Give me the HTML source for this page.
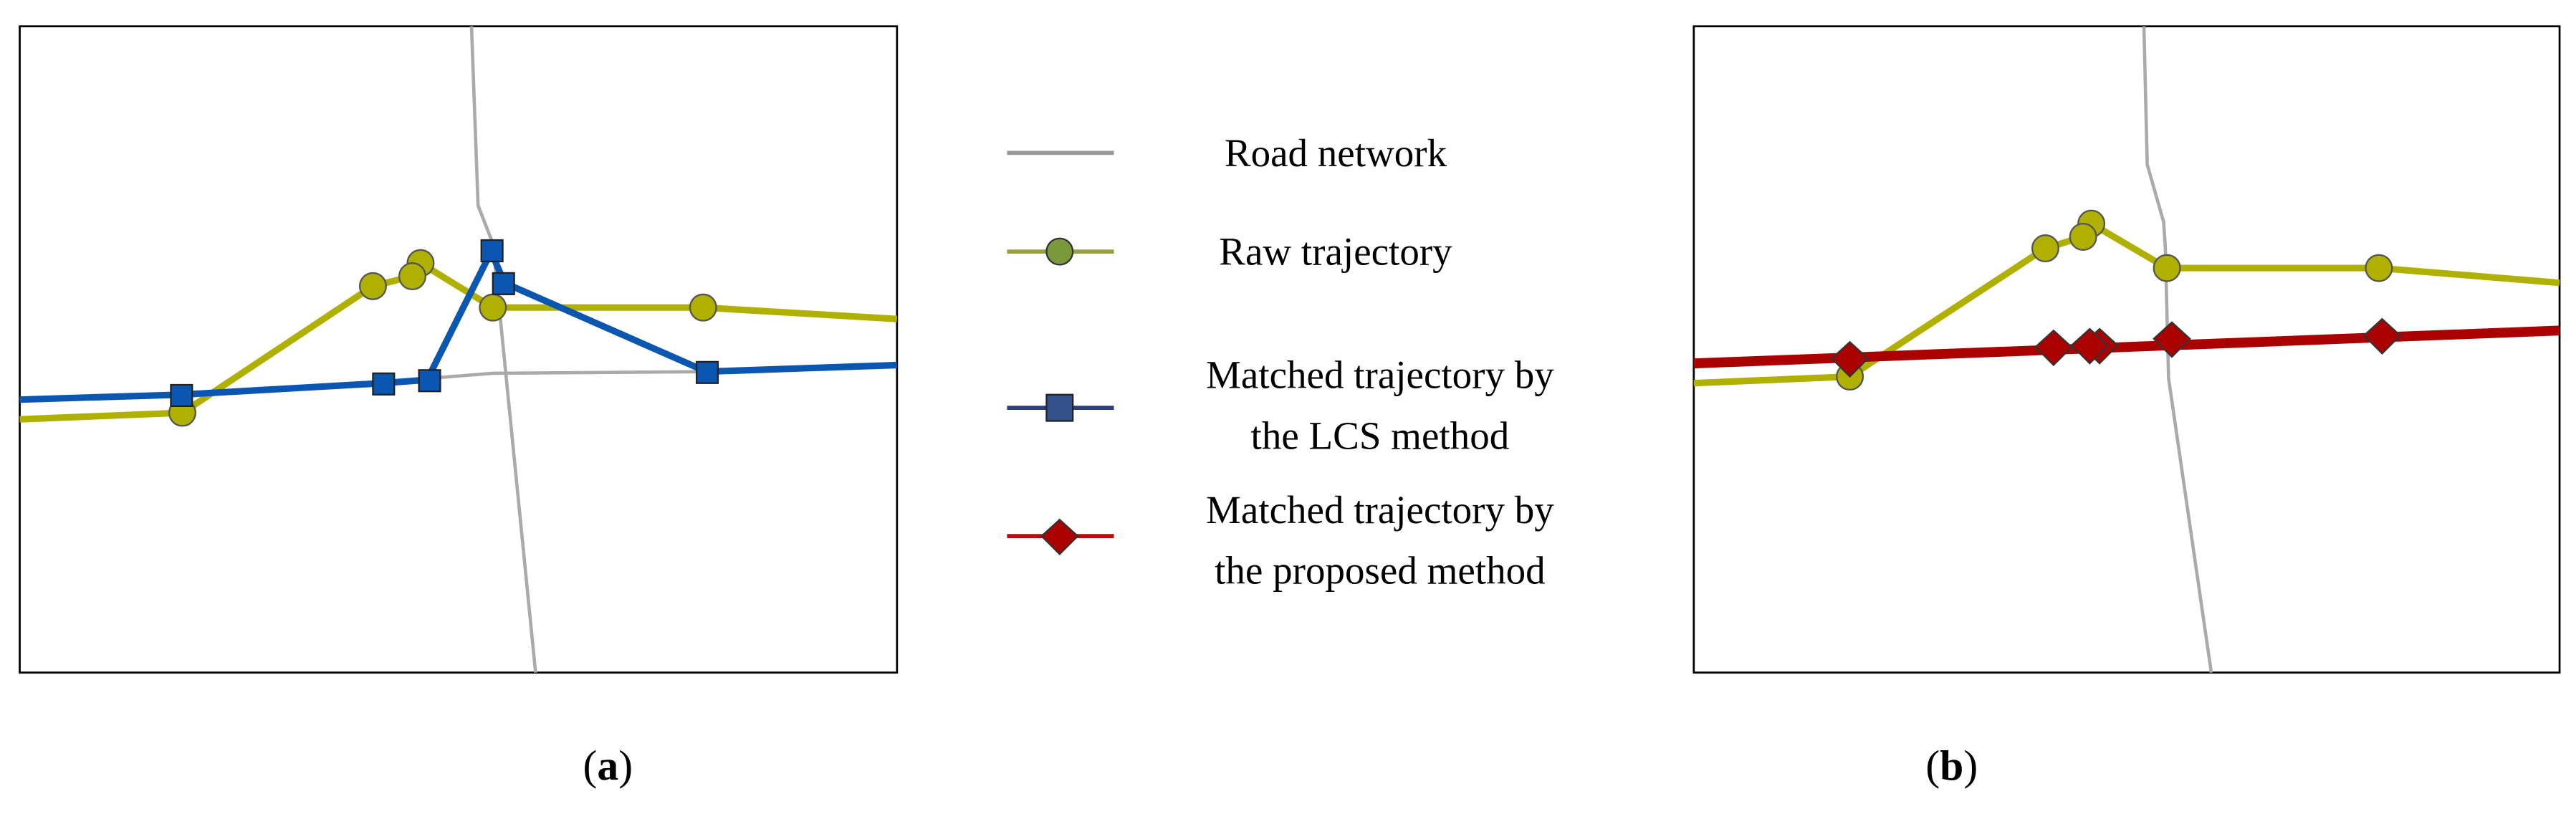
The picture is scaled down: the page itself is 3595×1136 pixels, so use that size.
<!DOCTYPE html>
<html><head><meta charset="utf-8"><style>
html,body{margin:0;padding:0;background:#fff;}
svg{display:block;}
text{font-family:"Liberation Serif",serif;fill:#000;}
</style></head><body>
<svg width="3595" height="1136" viewBox="0 0 1568 495" preserveAspectRatio="none" xmlns="http://www.w3.org/2000/svg">
<rect x="0" y="0" width="1568" height="495" fill="#fff"/>
<!-- Panel a -->
<rect x="12" y="16" width="534" height="393" fill="#fff" stroke="#000" stroke-width="1.2"/>
<polyline points="287,16 291,125 300,148 326,409" fill="none" stroke="#aaa" stroke-width="2"/>
<polyline points="262,230 300,227 430,226" fill="none" stroke="#aaa" stroke-width="2"/>
<polyline points="12,255 111,251 227,174 251,168 256,160 300,187 428,187 546,194" fill="none" stroke="#b0b000" stroke-width="4"/>
<polyline points="12,243 110,240 233,233 260,231 299,153 307,172 430,226 546,222" fill="none" stroke="#0a56b0" stroke-width="4"/>
<g fill="#b0b000" stroke="#555" stroke-width="1">
<circle cx="111" cy="251" r="8"/><circle cx="227" cy="174" r="8"/><circle cx="256" cy="160" r="8"/><circle cx="251" cy="168" r="8"/><circle cx="300" cy="187" r="8"/><circle cx="428" cy="187" r="8"/>
</g>
<g fill="#0a56b0" stroke="#222" stroke-width="1">
<rect x="104" y="234" width="13" height="13"/><rect x="227" y="227" width="13" height="13"/><rect x="255" y="225" width="13" height="13"/><rect x="293" y="146" width="13" height="13"/><rect x="300" y="166" width="13" height="13"/><rect x="424" y="220" width="13" height="13"/>
</g>
<!-- Legend -->
<line x1="613" y1="93" x2="678" y2="93" stroke="#999" stroke-width="2.5"/>
<text x="813" y="101" font-size="24" text-anchor="middle">Road network</text>
<line x1="613" y1="153" x2="678" y2="153" stroke="#9aa040" stroke-width="2.5"/>
<circle cx="645" cy="153" r="8" fill="#7a9a3a" stroke="#333" stroke-width="1"/>
<text x="813" y="161" font-size="24" text-anchor="middle">Raw trajectory</text>
<line x1="613" y1="248" x2="678" y2="248" stroke="#2a3f80" stroke-width="2.5"/>
<rect x="637" y="240" width="16" height="16" fill="#34508a" stroke="#222" stroke-width="1"/>
<text x="840" y="236" font-size="24" text-anchor="middle">Matched trajectory by</text>
<text x="840" y="273" font-size="24" text-anchor="middle">the LCS method</text>
<line x1="613" y1="326" x2="678" y2="326" stroke="#c00" stroke-width="2.5"/>
<polygon points="645,316 656,326 645,337 634,326" fill="#a00" stroke="#333" stroke-width="1"/>
<text x="840" y="318" font-size="24" text-anchor="middle">Matched trajectory by</text>
<text x="840" y="355" font-size="24" text-anchor="middle">the proposed method</text>
<!-- Panel b -->
<rect x="1031" y="16" width="527" height="393" fill="#fff" stroke="#000" stroke-width="1.2"/>
<polyline points="1305,16 1307,100 1317,135 1318,150 1320,230 1346,409" fill="none" stroke="#aaa" stroke-width="2"/>
<polyline points="1031,233 1126,229 1245,151 1268,144 1273,136 1319,163 1448,163 1558,172" fill="none" stroke="#b0b000" stroke-width="4"/>
<polyline points="1031,221 1558,201" fill="none" stroke="#a00" stroke-width="6"/>
<g fill="#b0b000" stroke="#555" stroke-width="1">
<circle cx="1126" cy="229" r="8"/><circle cx="1245" cy="151" r="8"/><circle cx="1273" cy="136" r="8"/><circle cx="1268" cy="144" r="8"/><circle cx="1319" cy="163" r="8"/><circle cx="1448" cy="163" r="8"/>
</g>
<g fill="#a00" stroke="#333" stroke-width="1">
<polygon points="1126,208 1137,218 1126,229 1115,218"/>
<polygon points="1250,201 1261,211 1250,222 1239,211"/>
<polygon points="1278,200 1289,210 1278,221 1267,210"/>
<polygon points="1272,200 1283,210 1272,221 1261,210"/>
<polygon points="1322,196 1333,206 1322,217 1311,206"/>
<polygon points="1450,194 1461,204 1450,215 1439,204"/>
</g>
<!-- Labels -->
<text x="370" y="474" font-size="26" text-anchor="middle">(<tspan font-weight="bold">a</tspan>)</text>
<text x="1188" y="474" font-size="26" text-anchor="middle">(<tspan font-weight="bold">b</tspan>)</text>
</svg>
</body></html>
